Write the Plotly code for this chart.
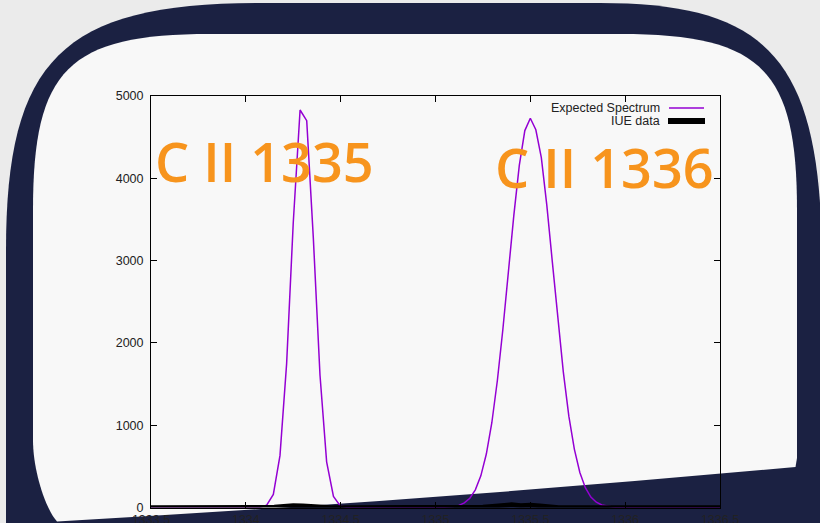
import plotly.graph_objects as go

# ---------------- data ----------------
expected_wavelength = [
    1333.500, 1334.040,
    1334.075, 1334.110, 1334.145, 1334.180, 1334.215, 1334.250, 1334.286,
    1334.321, 1334.356, 1334.391, 1334.426, 1334.462, 1334.497, 1334.532,
    1334.570, 1335.030,
    1335.065, 1335.094, 1335.123, 1335.152, 1335.181, 1335.210, 1335.239,
    1335.268, 1335.297, 1335.326, 1335.355, 1335.384, 1335.413, 1335.442,
    1335.471, 1335.500, 1335.529, 1335.558, 1335.587, 1335.616, 1335.645,
    1335.674, 1335.703, 1335.732, 1335.761, 1335.790, 1335.819, 1335.848,
    1335.877, 1335.906, 1335.935,
    1335.970, 1336.500,
]
expected_flux = [
    0, 0,
    4, 28, 158, 630, 1745, 3460, 4830,
    4700, 3270, 1610, 555, 134, 23, 3,
    0, 0,
    4, 11, 26, 56, 113, 215, 385,
    650, 1030, 1540, 2160, 2860, 3550, 4160,
    4580, 4730, 4590, 4250, 3670, 2985, 2280,
    1645, 1110, 710, 425, 240, 127, 64,
    30, 13, 5,
    0, 0,
]

iue_wavelength = [
    1333.50, 1333.55, 1333.60, 1333.65, 1333.70, 1333.75, 1333.80, 1333.85, 1333.90, 1333.95,
    1334.00, 1334.05, 1334.10, 1334.15, 1334.20, 1334.25, 1334.30, 1334.35, 1334.40, 1334.45,
    1334.50, 1334.55, 1334.60, 1334.65, 1334.70, 1334.75, 1334.80, 1334.85, 1334.90, 1334.95,
    1335.00, 1335.05, 1335.10, 1335.15, 1335.20, 1335.25, 1335.30, 1335.35, 1335.40, 1335.45,
    1335.50, 1335.55, 1335.60, 1335.65, 1335.70, 1335.75, 1335.80, 1335.85, 1335.90, 1335.95,
    1336.00, 1336.05, 1336.10, 1336.15, 1336.20, 1336.25, 1336.30, 1336.35, 1336.40, 1336.45,
    1336.50,
]
iue_flux = [
    0, 0, 0, 0, 0, 0, 0, 0, 0, 0,
    0, 0, 0, 5, 15, 25, 20, 10, 0, 0,
    0, 0, 0, 0, 0, 0, 0, 0, 0, 0,
    0, 0, 0, 0, 0, 5, 15, 30, 35, 25,
    30, 20, 5, 0, 0, 0, 0, 0, 0, 0,
    0, 0, 0, 0, 0, 0, 0, 0, 0, 0,
    0,
]

x_tick_values = [1333.5, 1334.0, 1334.5, 1335.0, 1335.5, 1336.0, 1336.5]
x_tick_labels = ["1333.5", "1334", "1334.5", "1335", "1335.5", "1336", "1336.5"]
y_tick_values = [0, 1000, 2000, 3000, 4000, 5000]
y_tick_labels = ["0", "1000", "2000", "3000", "4000", "5000"]

series_names = ["Expected Spectrum", "IUE data"]
line_labels = ["C II 1335", "C II 1336"]

# ---------------- layout helpers ----------------
W, H = 820, 523


def px(x):
    return x / W


def py(y):
    return 1 - y / H


def path(cmds):
    out = []
    for c in cmds:
        if isinstance(c, str):
            out.append(c)
        else:
            out.append(f"{px(c[0]):.5f},{py(c[1]):.5f}")
    return " ".join(out)


NAVY = "#1b2142"
PANEL = "#f8f8f8"
ORANGE = "#f7941d"
PURPLE = "#9400d3"
TXT = "#222222"
SANS = "Liberation Sans, Arial, Helvetica"

navy_path = path([
    "M", (6, 640), "L", (6, 250),
    "C", (6, 58.6), (63.2, 3), (260, 3),
    "L", (600, 3),
    "C", (772, 3), (822, 62.2), (822, 266),
    "L", (822, 640), "Z",
])

panel_path = path([
    "M", (33, 440), "L", (33, 210),
    "C", (33, 69.2), (68.4, 34), (210, 34),
    "L", (620, 34),
    "C", (761.6, 34), (797, 69.2), (797, 210),
    "L", (797, 458), "L", (795.5, 467),
    "Q", (430, 500.5), (57, 521.5),
    "C", (45, 508), (33, 470), (33, 440), "Z",
])

fig = go.Figure()

fig.add_trace(go.Scatter(
    x=expected_wavelength, y=expected_flux, mode="lines",
    name=series_names[0], line=dict(color=PURPLE, width=1.5),
    showlegend=False, hoverinfo="skip",
))
fig.add_trace(go.Scatter(
    x=iue_wavelength, y=iue_flux, mode="lines",
    name=series_names[1], line=dict(color="black", width=4.5),
    showlegend=False, hoverinfo="skip",
))

shapes = [
    dict(type="path", xref="paper", yref="paper", path=navy_path,
         fillcolor=NAVY, line=dict(width=0), layer="below"),
    dict(type="path", xref="paper", yref="paper", path=panel_path,
         fillcolor=PANEL, line=dict(width=0), layer="below"),
    # legend samples
    dict(type="line", xref="paper", yref="paper", x0=px(669), x1=px(704),
         y0=py(108), y1=py(108), line=dict(color=PURPLE, width=1.5)),
    dict(type="line", xref="paper", yref="paper", x0=px(668), x1=px(705),
         y0=py(121), y1=py(121), line=dict(color="black", width=6)),
]

annotations = [
    dict(text=series_names[0], xref="paper", yref="paper", x=px(662), y=py(108),
         xanchor="right", yanchor="middle", showarrow=False,
         font=dict(family=SANS, size=12.5, color=TXT)),
    dict(text=series_names[1], xref="paper", yref="paper", x=px(662), y=py(121),
         xanchor="right", yanchor="middle", showarrow=False,
         font=dict(family=SANS, size=12.5, color=TXT)),
    dict(text=line_labels[0], xref="paper", yref="paper", x=px(153), y=py(161),
         xanchor="left", yanchor="middle", showarrow=False,
         font=dict(family="Open Sans", size=54, color=ORANGE, weight=600)),
    dict(text=line_labels[1], xref="paper", yref="paper", x=px(493), y=py(167),
         xanchor="left", yanchor="middle", showarrow=False,
         font=dict(family="Open Sans", size=54, color=ORANGE, weight=600)),
]

axis_common = dict(
    showline=True, linecolor="black", linewidth=1, mirror="allticks",
    ticks="inside", ticklen=6, tickcolor="black", tickwidth=1,
    showgrid=False, zeroline=False, automargin=False,
    tickfont=dict(family=SANS, size=12.5, color=TXT),
)

fig.update_layout(
    template="none",
    width=W, height=H, autosize=False,
    margin=dict(l=0, r=0, t=0, b=0, pad=0),
    paper_bgcolor="#ebebeb", plot_bgcolor="rgba(0,0,0,0)",
    showlegend=False,
    shapes=shapes, annotations=annotations,
    xaxis=dict(domain=[px(151), px(720)], range=[1333.5, 1336.5],
               tickvals=x_tick_values, ticktext=x_tick_labels,
               ticklabelstandoff=0, **axis_common),
    yaxis=dict(domain=[py(507.5), py(96)], range=[0, 5000],
               tickvals=y_tick_values, ticktext=y_tick_labels,
               ticklabelstandoff=4, **axis_common),
)

fig.write_html(
    "out.html",
    config={"responsive": False, "displayModeBar": False},
    post_script="document.body.style.margin='0px';document.body.style.overflow='hidden';",
)
